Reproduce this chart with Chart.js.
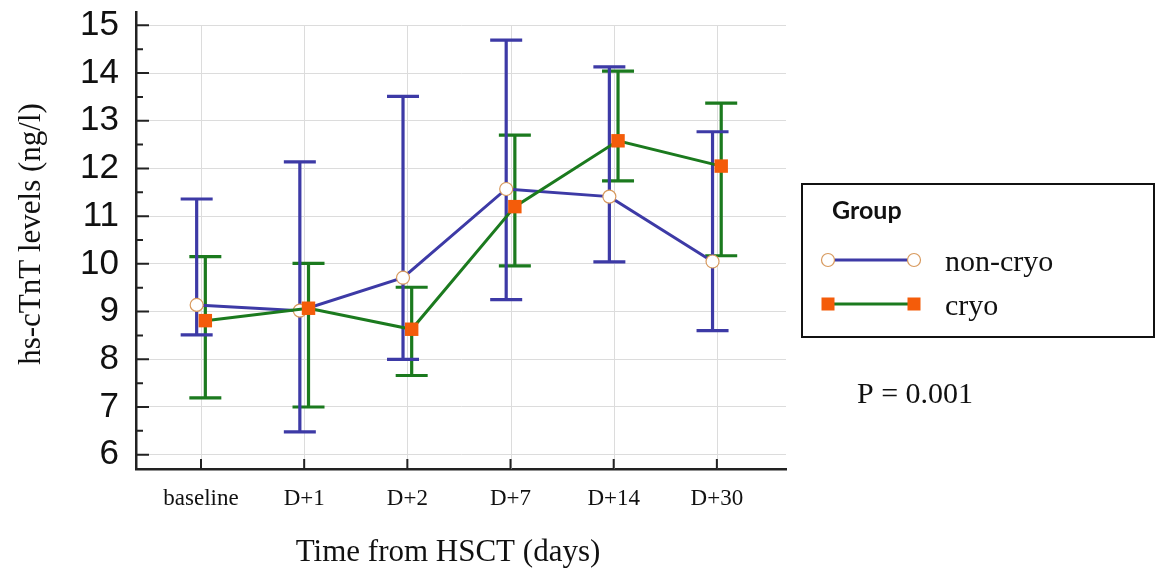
<!DOCTYPE html>
<html>
<head>
<meta charset="utf-8">
<script src="https://cdn.jsdelivr.net/npm/chart.js@4.4.0/dist/chart.umd.min.js"></script>
<style>
  html, body { margin: 0; padding: 0; background: #fff; }
  #wrap { width: 1155px; height: 579px; position: relative; }
</style>
</head>
<body>
<div id="wrap"><canvas id="chart"></canvas></div>
<script>
// values
const timepoints = ['baseline', 'D+1', 'D+2', 'D+7', 'D+14', 'D+30'];
const nonCryoMean = [9.14, 9.02, 9.71, 11.57, 11.41, 10.05];
const nonCryoLow  = [8.51, 6.48, 8.00, 9.25, 10.04, 8.60];
const nonCryoHigh = [11.36, 12.14, 13.51, 14.69, 14.13, 12.77];
const cryoMean = [8.81, 9.07, 8.63, 11.20, 12.58, 12.05];
const cryoLow  = [7.19, 7.00, 7.66, 9.96, 11.74, 10.17];
const cryoHigh = [10.15, 10.01, 9.51, 12.70, 14.04, 13.37];
const yTicks = [6, 7, 8, 9, 10, 11, 12, 13, 14, 15];
const pText = 'P = 0.001';

const BLUE = '#3d3aa6';
const GREEN = '#1b7a1e';
const ORANGE = '#f45c0a';
const RING = '#d89a5e';
const GRID = '#dcdcdc';
const SERIF = '"Liberation Serif", "Times New Roman", serif';

const dodge = 0.042;
const toPoints = (arr, off) => arr.map((v, i) => ({ x: i + off, y: v }));

const errorBars = {
  id: 'errorBars',
  beforeDatasetsDraw(chart) {
    const { ctx, chartArea, scales: { x, y } } = chart;
    const yTop = y.getPixelForValue(yTicks[yTicks.length - 1]);
    ctx.save();
    // vertical grid lines only up to the top tick
    ctx.strokeStyle = GRID;
    ctx.lineWidth = 1;
    ctx.beginPath();
    timepoints.forEach((_, i) => {
      const px = Math.round(x.getPixelForValue(i)) + 0.5;
      ctx.moveTo(px, yTop);
      ctx.lineTo(px, chartArea.bottom);
    });
    ctx.stroke();

    // inner tick marks
    ctx.strokeStyle = '#222';
    ctx.lineWidth = 2;
    ctx.beginPath();
    for (let v = 6; v <= 15; v += 0.5) {
      const py = y.getPixelForValue(v);
      const len = Number.isInteger(v) ? 13 : 7;
      ctx.moveTo(chartArea.left, py);
      ctx.lineTo(chartArea.left + len, py);
    }
    timepoints.forEach((_, i) => {
      const px = x.getPixelForValue(i);
      ctx.moveTo(px, chartArea.bottom);
      ctx.lineTo(px, chartArea.bottom - 10);
    });
    ctx.stroke();

    chart.data.datasets.forEach((ds, di) => {
      const meta = chart.getDatasetMeta(di);
      ctx.strokeStyle = ds.borderColor;
      ctx.lineWidth = 3.2;
      meta.data.forEach((pt, j) => {
        const yl = y.getPixelForValue(ds.errLow[j]);
        const yh = y.getPixelForValue(ds.errHigh[j]);
        const cap = 16;
        ctx.beginPath();
        ctx.moveTo(pt.x, yl); ctx.lineTo(pt.x, yh);
        ctx.moveTo(pt.x - cap, yl); ctx.lineTo(pt.x + cap, yl);
        ctx.moveTo(pt.x - cap, yh); ctx.lineTo(pt.x + cap, yh);
        ctx.stroke();
      });
    });
    ctx.restore();
  },
  afterDraw(chart) {
    const { ctx } = chart;
    ctx.save();
    ctx.fillStyle = '#111';
    // axis titles
    ctx.font = '31px ' + SERIF;
    ctx.textAlign = 'center';
    ctx.textBaseline = 'middle';
    ctx.fillText('Time from HSCT (days)', 448, 553);
    ctx.save();
    ctx.translate(32, 234);
    ctx.rotate(-Math.PI / 2);
    ctx.fillText('hs-cTnT levels (ng/l)', 0, 0);
    ctx.restore();

    // legend box
    ctx.strokeStyle = '#111';
    ctx.lineWidth = 2;
    ctx.strokeRect(802, 184, 352, 153);
    ctx.textAlign = 'left';
    ctx.textBaseline = 'alphabetic';
    ctx.font = 'bold 25px Lato, "Noto Sans", sans-serif';
    ctx.fillText('Group', 832, 219);

    const rows = [
      { y: 260, color: BLUE, label: chart.data.datasets[1].label, marker: 'circle' },
      { y: 304, color: GREEN, label: chart.data.datasets[0].label, marker: 'rect' }
    ];
    rows.forEach(r => {
      ctx.strokeStyle = r.color;
      ctx.lineWidth = 3;
      ctx.beginPath();
      ctx.moveTo(828, r.y); ctx.lineTo(914, r.y);
      ctx.stroke();
      [828, 914].forEach(mx => {
        if (r.marker === 'circle') {
          ctx.beginPath();
          ctx.arc(mx, r.y, 6.5, 0, Math.PI * 2);
          ctx.fillStyle = '#fff';
          ctx.fill();
          ctx.strokeStyle = RING;
          ctx.lineWidth = 1.2;
          ctx.stroke();
        } else {
          ctx.fillStyle = ORANGE;
          ctx.fillRect(mx - 6.5, r.y - 6.5, 13, 13);
        }
      });
      ctx.fillStyle = '#111';
      ctx.font = '30px ' + SERIF;
      ctx.fillText(r.label, 945, r.y + 11);
    });

    ctx.font = '30px ' + SERIF;
    ctx.fillText(pText, 857, 403);
    ctx.restore();
  }
};

new Chart(document.getElementById('chart'), {
  type: 'line',
  data: {
    datasets: [
      {
        label: 'cryo',
        data: toPoints(cryoMean, dodge),
        errLow: cryoLow,
        errHigh: cryoHigh,
        borderColor: GREEN,
        borderWidth: 3,
        pointStyle: 'rect',
        pointRadius: 9.5,
        pointBackgroundColor: ORANGE,
        pointBorderColor: ORANGE,
        pointBorderWidth: 0
      },
      {
        label: 'non-cryo',
        data: toPoints(nonCryoMean, -dodge),
        errLow: nonCryoLow,
        errHigh: nonCryoHigh,
        borderColor: BLUE,
        borderWidth: 3,
        pointStyle: 'circle',
        pointRadius: 6.5,
        pointBackgroundColor: '#fff',
        pointBorderColor: RING,
        pointBorderWidth: 1.2
      }
    ]
  },
  options: {
    responsive: true,
    maintainAspectRatio: false,
    animation: false,
    layout: { padding: { top: 12, right: 369, left: 0, bottom: 0 } },
    plugins: {
      legend: { display: false },
      tooltip: { enabled: false }
    },
    scales: {
      x: {
        type: 'linear',
        min: -0.63,
        max: 5.67,
        afterBuildTicks: s => { s.ticks = timepoints.map((_, i) => ({ value: i })); },
        afterFit: s => { s.height = 110; s.paddingLeft = 0; s.paddingRight = 0; },
        ticks: {
          callback: v => timepoints[v],
          color: '#111',
          font: { family: SERIF, size: 23 },
          padding: 16,
          maxRotation: 0,
          autoSkip: false
        },
        grid: { display: false, drawTicks: false },
        border: { display: true, color: '#222', width: 2.5 }
      },
      y: {
        min: 5.7,
        max: 15.28,
        afterBuildTicks: s => { s.ticks = yTicks.map(v => ({ value: v })); },
        afterFit: s => { s.width = 136; s.paddingTop = 0; s.paddingBottom = 0; },
        ticks: {
          color: '#111',
          font: { family: '"Liberation Sans", Arial, sans-serif', size: 35 },
          padding: 17
        },
        grid: { color: GRID, lineWidth: 1, drawTicks: false },
        border: { color: '#222', width: 2.5 }
      }
    }
  },
  plugins: [errorBars]
});
</script>
</body>
</html>
